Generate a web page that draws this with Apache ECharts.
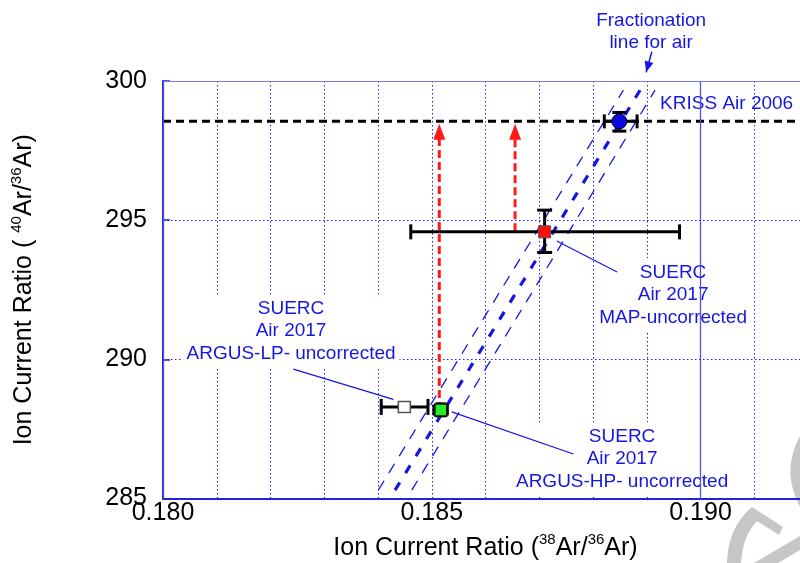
<!DOCTYPE html>
<html><head><meta charset="utf-8">
<script src="https://cdn.jsdelivr.net/npm/echarts@6/dist/echarts.min.js"></script>
<style>html,body{margin:0;padding:0;background:#fff}#c{width:800px;height:563px}</style>
</head><body><div id="c"></div><script>
const FONT = '"Liberation Sans", Arial, Helvetica, sans-serif';

// ---- axes ----
const xRange = [0.180, 0.192];
const yRange = [285, 300];
const xLabelValues = [0.180, 0.185, 0.190];
const yLabelValues = [285, 290, 295, 300];
const majorXLines = [0.185, 0.190];

// ---- data points (x, y) and error ranges ----
const krissPoint = [0.18849, 298.55];
const krissXErr = [0.18821, 0.18882];
const krissYErr = [298.20, 298.87];
const mapPoint = [0.18710, 294.58];
const mapXErr = [0.18461, 0.18961];
const mapYErr = [293.84, 295.36];
const hpPoint = [0.18517, 288.18];
const hpXErr = [0.18504, 0.18529];
const hpYErr = [287.97, 288.40];
const lpPoint = [0.18449, 288.29];
const lpXErr = [0.18406, 0.18493];
const lpYErr = [288.29, 288.29];

// ---- reference lines ----
const krissRefY = 298.55;
const fracCenter = [[0.184317, 285.30], [0.188876, 299.67]];
const fracLeft = [[0.184006, 285.30], [0.188565, 299.67]];
const fracRight = [[0.184628, 285.30], [0.189155, 299.67]];
const arrowHP = [[0.18514, 288.18], [0.18514, 298.18]];
const arrowMAP = [[0.18655, 294.60], [0.18655, 298.18]];

// ---- annotations (data coords) ----
const fracText = 'Fractionation\nline for air';
const fracTextAt = [0.189081, 301.77];
const fracArrow = [[0.189094, 301.05], [0.188988, 300.31]];
const krissText = 'KRISS Air 2006';
const krissTextAt = [0.189248, 299.18];
const mapText = 'SUERC\nAir 2017\nMAP-uncorrected';
const mapTextAt = [0.189490, 292.31];
const mapLeader = [[0.187326, 294.25], [0.188448, 293.14]];
const lpText = 'SUERC\nAir 2017\nARGUS-LP- uncorrected';
const lpTextAt = [0.182382, 291.01];
const lpLeader = [[0.182425, 289.65], [0.184285, 288.56]];
const hpText = 'SUERC\nAir 2017\nARGUS-HP- uncorrected';
const hpTextAt = [0.188541, 286.42];
const hpLeader = [[0.185372, 288.11], [0.187635, 286.60]];

const BLUE = '#1616e0';
const AXIS = '#2323d8';
const GRIDC = '#1a1aff';

const errRows = [
  [krissPoint[0], krissPoint[1], krissXErr[0], krissXErr[1], krissYErr[0], krissYErr[1], 14],
  [mapPoint[0], mapPoint[1], mapXErr[0], mapXErr[1], mapYErr[0], mapYErr[1], 15],
  [hpPoint[0], hpPoint[1], hpXErr[0], hpXErr[1], hpYErr[0], hpYErr[1], 11],
  [lpPoint[0], lpPoint[1], lpXErr[0], lpXErr[1], lpYErr[0], lpYErr[1], 16]
];

const chart = echarts.init(document.getElementById('c'), null, {renderer: 'canvas'});

function supRich(size) {
  return {
    a: {fontSize: size, fontFamily: FONT, color: '#000', lineHeight: 31},
    s: {fontSize: 15, fontFamily: FONT, color: '#000', verticalAlign: 'top'}
  };
}

const option = {
  backgroundColor: '#fff',
  animation: false,
  grid: {left: 163, top: 81, bottom: 64.5, width: 645, containLabel: false, outerBoundsMode: 'none'},
  xAxis: {
    type: 'value', min: xRange[0], max: xRange[1], interval: 0.001,
    axisLine: {show: true, lineStyle: {color: AXIS, width: 2}},
    axisTick: {show: false},
    axisLabel: {
      fontSize: 25, fontFamily: FONT, color: '#000', margin: 2,
      formatter: v => xLabelValues.some(t => Math.abs(t - v) < 1e-7) ? v.toFixed(3) : ''
    },
    splitLine: {show: true, lineStyle: {color: GRIDC, width: 1, type: [1.5, 2.5], opacity: 1}},
    name: '{a|Ion Current Ratio (}{s|38}{a|Ar/}{s|36}{a|Ar)}',
    nameLocation: 'middle', nameGap: 34,
    nameTextStyle: {rich: supRich(25)}
  },
  yAxis: {
    type: 'value', min: yRange[0], max: yRange[1], interval: 5,
    axisLine: {show: true, onZero: false, lineStyle: {color: AXIS, width: 2}},
    axisTick: {show: true, inside: true, length: 7, lineStyle: {color: AXIS, width: 1.5}},
    axisLabel: {
      fontSize: 25, fontFamily: FONT, color: '#000', margin: 16,
      formatter: v => yLabelValues.indexOf(v) >= 0 ? String(v) : ''
    },
    splitLine: {show: true, lineStyle: {color: GRIDC, width: 1, type: [1.5, 2.5], opacity: 1}},
    name: '{a|Ion Current Ratio ( }{s|40}{a|Ar/}{s|36}{a|Ar)}',
    nameLocation: 'middle', nameGap: 123, nameRotate: 90,
    nameTextStyle: {rich: supRich(25)}
  },
  series: [
    {
      type: 'line', data: [], z: 0.5, silent: true,
      markLine: {
        silent: true, symbol: 'none', label: {show: false}, animation: false,
        lineStyle: {type: 'solid', color: '#5050e6', width: 1.3},
        data: majorXLines.map(v => ({xAxis: v})).concat([{yAxis: yRange[1], lineStyle: {color: '#7a7af0', width: 1}}])
      }
    },
    {type: 'line', data: fracLeft, symbol: 'none', z: 2, lineStyle: {color: BLUE, width: 1.3, type: [11, 9]}},
    {type: 'line', data: fracRight, symbol: 'none', z: 2, lineStyle: {color: BLUE, width: 1.3, type: [11, 9]}},
    {type: 'line', data: fracCenter, symbol: 'none', z: 2, lineStyle: {color: BLUE, width: 3.2, type: [9, 11]}},
    {type: 'line', data: [[xRange[0], krissRefY], [xRange[1], krissRefY]], symbol: 'none', z: 3,
      lineStyle: {color: '#000', width: 3, type: [8, 5]}},
    {type: 'line', z: 3, symbol: 'none', lineStyle: {color: '#ff1a1a', width: 3, type: [8, 4]},
      itemStyle: {color: '#ff1a1a'},
      data: [{value: arrowHP[0], symbol: 'none'}, {value: arrowHP[1], symbol: 'triangle', symbolSize: [12, 16]}]},
    {type: 'line', z: 3, symbol: 'none', lineStyle: {color: '#ff1a1a', width: 3, type: [8, 4]},
      itemStyle: {color: '#ff1a1a'},
      data: [{value: arrowMAP[0], symbol: 'none'}, {value: arrowMAP[1], symbol: 'triangle', symbolSize: [12, 16]}]},
    {
      type: 'custom', z: 4, data: errRows, encode: {x: 0, y: 1},
      renderItem: function (params, api) {
        const x = api.value(0), y = api.value(1), cap = api.value(6) / 2;
        const c = api.coord([x, y]);
        const xl = api.coord([api.value(2), y]), xh = api.coord([api.value(3), y]);
        const st = {stroke: '#000', lineWidth: 3};
        const ch = [
          {type: 'line', shape: {x1: xl[0], y1: c[1], x2: xh[0], y2: c[1]}, style: st},
          {type: 'line', shape: {x1: xl[0], y1: c[1] - cap, x2: xl[0], y2: c[1] + cap}, style: st},
          {type: 'line', shape: {x1: xh[0], y1: c[1] - cap, x2: xh[0], y2: c[1] + cap}, style: st}
        ];
        if (api.value(4) !== api.value(5)) {
          const yl = api.coord([x, api.value(4)]), yh = api.coord([x, api.value(5)]);
          ch.push({type: 'line', shape: {x1: c[0], y1: yl[1], x2: c[0], y2: yh[1]}, style: st});
          ch.push({type: 'line', shape: {x1: c[0] - cap, y1: yl[1], x2: c[0] + cap, y2: yl[1]}, style: st});
          ch.push({type: 'line', shape: {x1: c[0] - cap, y1: yh[1], x2: c[0] + cap, y2: yh[1]}, style: st});
        }
        return {type: 'group', children: ch};
      }
    },
    {type: 'scatter', z: 5, data: [krissPoint], symbol: 'circle', symbolSize: 15,
      itemStyle: {color: '#0b0bdc', borderColor: '#00003a', borderWidth: 1, opacity: 1}},
    {type: 'scatter', z: 5, data: [mapPoint], symbol: 'rect', symbolSize: 12,
      itemStyle: {color: '#ff0c0c', borderColor: '#555', borderWidth: 1, opacity: 1}},
    {type: 'scatter', z: 5, data: [hpPoint], symbol: 'rect', symbolSize: 12,
      itemStyle: {color: '#26ee26', borderColor: '#111', borderWidth: 1.5, opacity: 1}},
    {type: 'scatter', z: 5, data: [lpPoint], symbol: 'rect', symbolSize: [12, 11],
      itemStyle: {color: '#ffffff', borderColor: '#555', borderWidth: 1.5, opacity: 1}}
  ]
};
chart.setOption(option);

function px(p) { return chart.convertToPixel({gridIndex: 0}, p); }
function textEl(txt, at, align, bg) {
  const p = px(at);
  const st = {text: txt, x: p[0], y: p[1], fill: BLUE, font: '19px ' + FONT,
    align: align, verticalAlign: 'middle', lineHeight: 22.5};
  if (bg) { st.backgroundColor = '#fff'; st.padding = [3, 4]; }
  return {type: 'text', z: 1, silent: true, style: st};
}
function leaderEl(seg) {
  const a = px(seg[0]), b = px(seg[1]);
  return {type: 'line', z: 6, silent: true, shape: {x1: a[0], y1: a[1], x2: b[0], y2: b[1]},
    style: {stroke: BLUE, lineWidth: 1.2}};
}
const fa = px(fracArrow[0]), fb = px(fracArrow[1]);
const ang = Math.atan2(fb[1] - fa[1], fb[0] - fa[0]);
const hl = 11, hw = 4.5;
const bx = fb[0] - hl * Math.cos(ang), by = fb[1] - hl * Math.sin(ang);
const head = [[fb[0], fb[1]],
  [bx + hw * Math.sin(ang), by - hw * Math.cos(ang)],
  [bx - hw * Math.sin(ang), by + hw * Math.cos(ang)]];

// decorative watermark (bottom-right logo fragment)
function quad(p0, p1, p2, n) {
  const out = [];
  for (let i = 0; i <= n; i++) {
    const t = i / n, u = 1 - t;
    out.push([u * u * p0[0] + 2 * u * t * p1[0] + t * t * p2[0], u * u * p0[1] + 2 * u * t * p1[1] + t * t * p2[1]]);
  }
  return out;
}
const wm1 = quad([800, 436], [781, 471], [800, 507], 16);
const wm2 = [[752, 507], [783, 527], [779, 535], [757, 521]]
  .concat(quad([757, 521], [743, 535], [741, 563], 10))
  .concat([[727, 563]])
  .concat(quad([727, 563], [728, 527], [752, 507], 10));
const wm3 = [[754, 563], [800, 536], [800, 550], [778, 563]];
const WM = '#c6c6c6';

chart.setOption({
  graphic: [
    {type: 'polygon', z: -1, silent: true, shape: {points: wm1}, style: {fill: WM}},
    {type: 'polygon', z: -1, silent: true, shape: {points: wm2}, style: {fill: WM}},
    {type: 'polygon', z: -1, silent: true, shape: {points: wm3}, style: {fill: WM}},
    textEl(fracText, fracTextAt, 'center', false),
    textEl(krissText, krissTextAt, 'left', false),
    textEl(mapText, mapTextAt, 'center', true),
    textEl(lpText, lpTextAt, 'center', true),
    textEl(hpText, hpTextAt, 'center', true),
    leaderEl(mapLeader), leaderEl(lpLeader), leaderEl(hpLeader),
    {type: 'line', z: 6, silent: true, shape: {x1: fa[0], y1: fa[1], x2: fb[0], y2: fb[1]}, style: {stroke: BLUE, lineWidth: 1.5}},
    {type: 'polygon', z: 6, silent: true, shape: {points: head}, style: {fill: BLUE}}
  ]
});
</script></body></html>
